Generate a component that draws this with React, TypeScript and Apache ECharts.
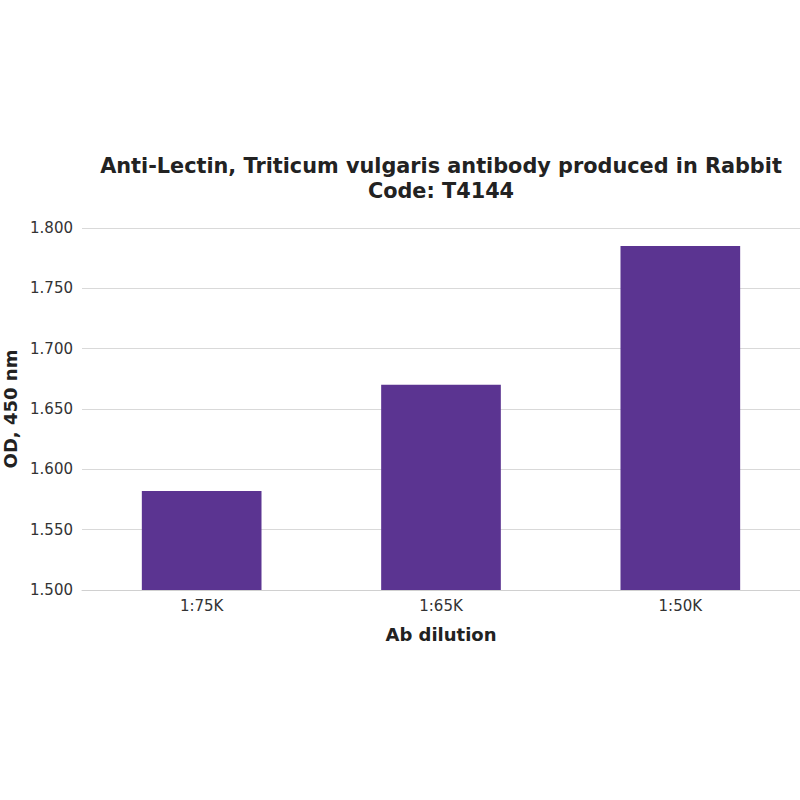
import React, { useEffect, useRef } from "react";
import * as echarts from "echarts";

const categories = ["1:75K", "1:65K", "1:50K"];
const odValues = [1.582, 1.67, 1.785];
const titleLines = ["Anti-Lectin, Triticum vulgaris antibody produced in Rabbit", "Code: T4144"];

export default function App() {
  const ref = useRef<HTMLDivElement>(null);
  useEffect(() => {
    const chart = echarts.init(ref.current!, null, { renderer: "svg" });
    chart.setOption({
      animation: false,
      backgroundColor: "#ffffff",
      title: {
        text: titleLines.join("\n"),
        left: 436,
        top: 148,
        textAlign: "center",
        textStyle: {
          fontFamily: "DejaVu Sans",
          fontSize: 20.8,
          fontWeight: "bold",
          color: "#222",
          lineHeight: 25,
        },
      },
      grid: { left: 82, right: 0, top: 228, bottom: 210, containLabel: false, outerBoundsMode: "none" },
      xAxis: {
        type: "category",
        data: categories,
        name: "Ab dilution",
        nameLocation: "middle",
        nameGap: 35,
        nameTextStyle: { fontFamily: "DejaVu Sans", fontSize: 18, fontWeight: "bold", color: "#222" },
        axisLine: { show: true, lineStyle: { color: "#d0d0d0", width: 1 } },
        axisTick: { show: false },
        axisLabel: { fontFamily: "DejaVu Sans", fontSize: 15, color: "#333", margin: 8 },
      },
      yAxis: {
        type: "value",
        min: 1.5,
        max: 1.8,
        interval: 0.05,
        name: "OD, 450 nm",
        nameLocation: "middle",
        nameGap: 63,
        nameRotate: 90,
        nameTextStyle: { fontFamily: "DejaVu Sans", fontSize: 18, fontWeight: "bold", color: "#222" },
        axisLine: { show: false },
        axisTick: { show: false },
        splitLine: { lineStyle: { color: "#d9d9d9", width: 1 } },
        axisLabel: {
          fontFamily: "DejaVu Sans",
          fontSize: 15,
          color: "#333",
          margin: 9,
          formatter: (v: number) => v.toFixed(3),
        },
      },
      series: [
        {
          type: "bar",
          data: odValues,
          barWidth: "50%",
          itemStyle: { color: "#5b3491" },
        },
      ],
    });
    return () => chart.dispose();
  }, []);
  return <div ref={ref} style={{ position: "fixed", left: 0, top: 0, width: 800, height: 800 }} />;
}
